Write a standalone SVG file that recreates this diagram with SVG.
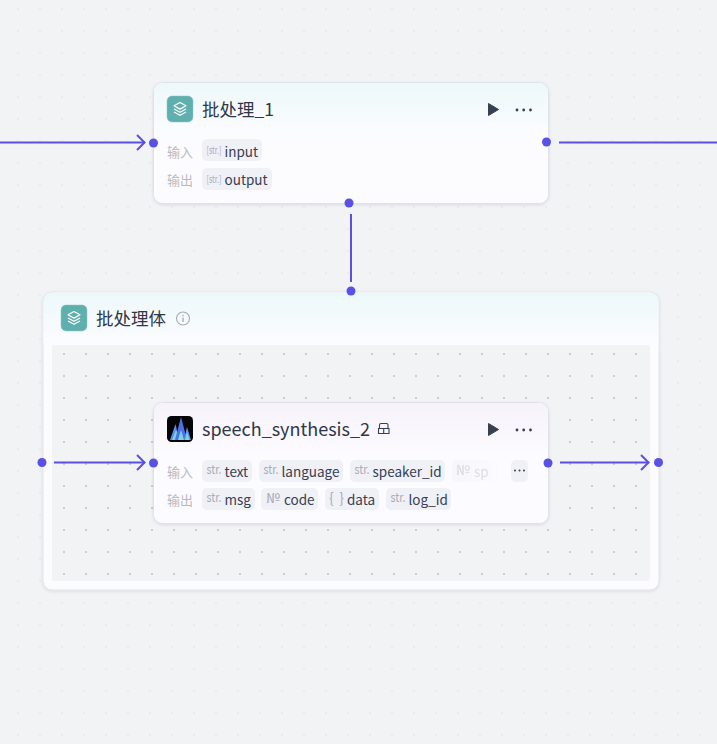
<svg xmlns="http://www.w3.org/2000/svg" width="717" height="744" viewBox="0 0 717 744">
<style>
text{font-family:"Noto Sans CJK SC","Noto Sans",sans-serif}
.title{font-size:18px;font-weight:400;fill:#2f3747}
.cn{font-size:17.500px}
.lbl{font-size:13px;fill:#b8bac2}
.v{font-size:13.500px;fill:#354052}
.t{font-size:13px;fill:#a8abb8}
.s{font-size:10px;fill:#a8abb8}
.chip{fill:#f0f0f7}
.card{stroke:#e0e2ea;stroke-width:1}
.edge{stroke:#5a50e6;stroke-width:2;fill:none}
.port{fill:#5a50e6}
.dark{fill:#354052}
</style>
<defs>
<pattern id="outer" width="22" height="22" patternUnits="userSpaceOnUse" x="7" y="-2"><circle cx="11" cy="11" r="1" fill="#e8e9ed"/></pattern>
<pattern id="inner" width="22" height="22" patternUnits="userSpaceOnUse" x="53" y="343"><circle cx="11" cy="11" r="1.100" fill="#c2c4ca"/></pattern>
<linearGradient id="gt" x1="0" y1="0" x2="0" y2="1"><stop offset="0" stop-color="#edf8fa"/><stop offset="1" stop-color="#fcfcff"/></linearGradient>
<linearGradient id="gp" x1="0" y1="0" x2="0" y2="1"><stop offset="0" stop-color="#f6f2fb"/><stop offset="1" stop-color="#fcfbff"/></linearGradient>
<linearGradient id="fade" x1="0" y1="0" x2="1" y2="0"><stop offset="0" stop-color="#f6f6fb"/><stop offset="1" stop-color="#fcfbff"/></linearGradient>
<filter id="sh" x="-5%" y="-5%" width="110%" height="115%"><feDropShadow dx="0" dy="1" stdDeviation="1.500" flood-color="#1a2040" flood-opacity="0.1"/></filter>
<marker id="arr" markerUnits="userSpaceOnUse" markerWidth="16" markerHeight="18" refX="11" refY="9" orient="auto"><path d="M3 1.500L10.500 9L3 16.500" fill="none" stroke="#5a50e6" stroke-width="2"/></marker>
<g id="stack"><rect x="0" y="0" width="26" height="26" rx="5" fill="#5fafae" stroke="#8cc8c6" stroke-width="0.500"/><path d="M13 6.500L19 9.800L13 13.100L7 9.800Z M7 13L13 16.300L19 13 M7 16L13 19.300L19 16" fill="none" stroke="#fff" stroke-width="1.200" stroke-linejoin="round"/></g>
<g id="run"><path d="M488.500 103.500L498.500 109.500L488.500 115.500Z" class="dark" stroke="#354052" stroke-linejoin="round"/><circle cx="517" cy="110" r="1.400" class="dark"/><circle cx="523.700" cy="110" r="1.400" class="dark"/><circle cx="530.500" cy="110" r="1.400" class="dark"/></g>
</defs>
<rect width="717" height="744" fill="#f2f3f5"/>
<rect width="717" height="744" fill="url(#outer)"/>

<g id="loop">
<rect x="43" y="292" width="616" height="298" rx="9" fill="#fcfcfe" stroke="#e2e4ea" filter="url(#sh)"/>
<path d="M43.500 345V301A8.500 8.500 0 0 1 52 292.500H650A8.500 8.500 0 0 1 658.500 301V345Z" fill="url(#gt)"/>
<rect x="52" y="345" width="598" height="236" rx="2" fill="#f2f3f5"/>
<rect x="52" y="345" width="598" height="236" fill="url(#inner)"/>
<use href="#stack" x="61" y="305"/>
<text class="title cn" x="96" y="324.500">批处理体</text>
<circle cx="183" cy="318.500" r="6.500" fill="none" stroke="#a8abb3" stroke-width="1.100"/>
<rect x="182.400" y="317.500" width="1.300" height="4.500" fill="#a8abb3"/><rect x="182.400" y="314.800" width="1.300" height="1.400" fill="#a8abb3"/>
</g>

<g id="connectors">
<path class="edge" d="M0 142.500H145" marker-end="url(#arr)"/>
<path class="edge" d="M559 142.500H717"/>
<path class="edge" d="M351 214V282"/>
<path class="edge" d="M54 462.500H145" marker-end="url(#arr)"/>
<path class="edge" d="M560 462.500H649" marker-end="url(#arr)"/>
</g>

<g id="batch_1">
<rect x="153.500" y="82.500" width="395" height="121" rx="9" fill="#fcfcff" class="card" filter="url(#sh)"/>
<path d="M154 135V91.500A9 9 0 0 1 163 83H539A9 9 0 0 1 548 91.500V135Z" fill="url(#gt)"/>
<use href="#stack" x="167" y="96"/>
<text class="title cn" x="202" y="116">批处理_1</text>
<use href="#run"/>
<text class="lbl" x="167" y="157">输入</text>
<rect class="chip" x="202" y="139" width="60" height="22" rx="5"/>
<text class="s" x="206.500" y="154" textLength="15" lengthAdjust="spacingAndGlyphs">[str.]</text>
<text class="v" x="224.500" y="157">input</text>
<text class="lbl" x="167" y="185">输出</text>
<rect class="chip" x="202" y="168" width="70" height="22" rx="5"/>
<text class="s" x="206.500" y="183" textLength="15" lengthAdjust="spacingAndGlyphs">[str.]</text>
<text class="v" x="224.500" y="185">output</text>
<circle class="port" cx="153.500" cy="143" r="4.500"/>
<circle class="port" cx="546.500" cy="142" r="4.500"/>
<circle class="port" cx="349" cy="203" r="4.500"/>
</g>

<g id="speech_synthesis_2">
<rect x="153.500" y="402.500" width="395" height="121" rx="9" fill="#fcfbff" class="card" filter="url(#sh)"/>
<path d="M154 455V411.500A9 9 0 0 1 163 403H539A9 9 0 0 1 548 411.500V455Z" fill="url(#gp)"/>
<rect x="167" y="416" width="26" height="26" rx="4.500" fill="#050508"/>
<path d="M170 440L175.500 424L179 440Z" fill="#5b8ef0"/><path d="M172 440L176 430L180 440Z" fill="#7ed3d6"/><path d="M175 440L181 417L187 440Z" fill="#4b6fe8"/><path d="M178 440L181 430L184 440Z" fill="#7ed3d6"/><path d="M184 440L187 427L191 440Z" fill="#5b8ef0"/><path d="M185 440L187 432L189.500 440Z" fill="#7ed3d6"/>
<text class="title" x="202" y="436">speech_synthesis_2</text>
<g fill="none" stroke="#354052" stroke-width="1.100"><path d="M379.500 428V425A1.500 1.500 0 0 1 381 423.500H386.500A1.500 1.500 0 0 1 388 425V428"/><path d="M378.500 428.500H389V433.500H378.500ZM383.700 428.500V433.500"/></g>
<use href="#run" y="320"/>
<text class="lbl" x="167" y="477">输入</text>
<rect class="chip" x="202" y="460" width="50" height="22" rx="5"/>
<text class="t" x="206.500" y="474" textLength="15" lengthAdjust="spacingAndGlyphs">str.</text><text class="v" x="224.500" y="477">text</text>
<rect class="chip" x="259" y="460" width="84" height="22" rx="5"/>
<text class="t" x="263.500" y="474" textLength="15" lengthAdjust="spacingAndGlyphs">str.</text><text class="v" x="281.500" y="477">language</text>
<rect class="chip" x="350" y="460" width="95" height="22" rx="5"/>
<text class="t" x="354.500" y="474" textLength="15" lengthAdjust="spacingAndGlyphs">str.</text><text class="v" x="372.500" y="477">speaker_id</text>
<rect x="452" y="460" width="50" height="22" rx="5" fill="url(#fade)"/>
<text class="t" x="456" y="475" opacity="0.4" textLength="14" lengthAdjust="spacingAndGlyphs" style="font-size:14px">№</text><text class="v" x="474" y="477" opacity="0.15">sp</text>
<rect class="chip" x="511" y="460" width="17" height="22" rx="5"/>
<circle cx="515" cy="470.500" r="1" class="dark"/><circle cx="519.500" cy="470.500" r="1" class="dark"/><circle cx="524" cy="470.500" r="1" class="dark"/>
<text class="lbl" x="167" y="505">输出</text>
<rect class="chip" x="202" y="488" width="53" height="22" rx="5"/>
<text class="t" x="206.500" y="502" textLength="15" lengthAdjust="spacingAndGlyphs">str.</text><text class="v" x="224.500" y="505">msg</text>
<rect class="chip" x="261" y="488" width="57" height="22" rx="5"/>
<text class="t" x="266" y="503" textLength="14" lengthAdjust="spacingAndGlyphs" style="font-size:14px">№</text><text class="v" x="284" y="505">code</text>
<rect class="chip" x="325" y="488" width="54" height="22" rx="5"/>
<text class="t" x="329" y="503" textLength="15" style="font-size:14px">{ }</text><text class="v" x="347" y="505">data</text>
<rect class="chip" x="386" y="488" width="65" height="22" rx="5"/>
<text class="t" x="390.500" y="502" textLength="15" lengthAdjust="spacingAndGlyphs">str.</text><text class="v" x="408.500" y="505">log_id</text>
<circle class="port" cx="153.500" cy="463" r="4.500"/>
<circle class="port" cx="548" cy="463" r="4.500"/>
</g>

<g id="ports">
<circle class="port" cx="351" cy="291" r="4.500"/>
<circle class="port" cx="42" cy="462.500" r="4.500"/>
<circle class="port" cx="658.500" cy="462.500" r="4.500"/>
</g>
</svg>
